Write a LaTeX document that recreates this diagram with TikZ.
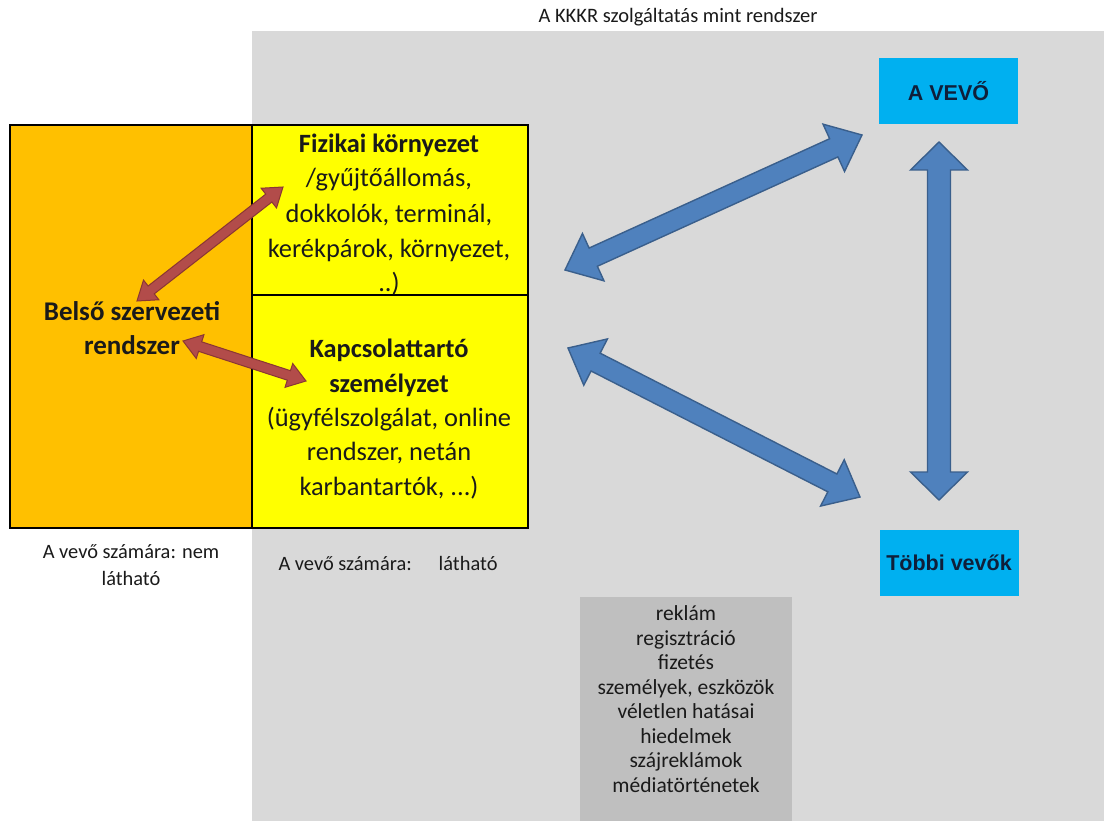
\documentclass[tikz,border=0pt]{standalone}
\usepackage{fontspec}
\setmainfont{Carlito}
\newfontfamily\arialfont{Liberation Sans}
\usetikzlibrary{calc}
\definecolor{bggrey}{HTML}{D9D9D9}
\definecolor{listgrey}{HTML}{BFBFBF}
\definecolor{orng}{HTML}{FFC000}
\definecolor{yell}{HTML}{FFFF00}
\definecolor{cyanbox}{HTML}{00B0F0}
\definecolor{bluefill}{HTML}{4F81BD}
\definecolor{blueline}{HTML}{3A5F8C}
\definecolor{redfill}{HTML}{B24C4A}
\definecolor{redline}{HTML}{8A3634}
\definecolor{txt}{HTML}{1A1A1A}
\definecolor{navy}{HTML}{0F1F3A}
% #1,#2 end coordinates, #3 shaft width, #4 head width, #5 head length, #6 style
\newcommand\dblblockarrow[6]{%
  \coordinate (ha) at ($(#1)!#5!(#2)$);
  \coordinate (hb) at ($(#2)!#5!(#1)$);
  \draw[#6] (#1) -- ($(ha)!#4/2!90:(#2)$) -- ($(ha)!#3/2!90:(#2)$)
    -- ($(hb)!#3/2!-90:(#1)$) -- ($(hb)!#4/2!-90:(#1)$) -- (#2)
    -- ($(hb)!#4/2!90:(#1)$) -- ($(hb)!#3/2!90:(#1)$)
    -- ($(ha)!#3/2!-90:(#2)$) -- ($(ha)!#4/2!-90:(#2)$) -- cycle;
}
\tikzset{
  bluearrow/.style={fill=bluefill, draw=blueline, line width=1.4pt, line join=miter},
  redarrow/.style={fill=redfill, draw=redline, line width=1pt, line join=miter},
  smalltxt/.style={text=txt, align=center, font=\fontsize{20.4}{27}\selectfont},
  custbox/.style={fill=cyanbox, text=navy, font=\arialfont\bfseries\fontsize{21.5}{25}\selectfont, minimum width=139pt, minimum height=66pt, inner sep=0pt},
}
\begin{document}
\begin{tikzpicture}[x=1pt,y=-1pt]
\useasboundingbox (0,0) rectangle (1104,821);
\fill[white] (0,0) rectangle (1104,821);
% grey background system area
\fill[bggrey] (252,31) rectangle (1104,821);
\node[text=txt, font=\fontsize{20.5}{24}\selectfont, anchor=base] (title) at (678,23) {A KKKR szolgáltatás mint rendszer};
% main box
\fill[orng] (10,125) rectangle (252,528);
\fill[yell] (252,125) rectangle (528,528);
\draw[line width=1.2pt, black] (252,125) -- (252,528);
\draw[line width=1.2pt, black] (252,295) -- (528,295);
\draw[line width=2.6pt, black] (10,125) rectangle (528,528);
% texts in boxes (anchor base = baseline of last line)
\node[text=txt, align=center, font=\fontsize{26.4}{35}\selectfont, anchor=base] (fiz) at (389,292) {\textbf{Fizikai környezet}\\/gyűjtőállomás,\\dokkolók, terminál,\\kerékpárok, környezet,\\..)};
\node[text=txt, align=center, font=\fontsize{26.4}{34.3}\selectfont, anchor=base] (kap) at (389,495) {\textbf{Kapcsolattartó}\\\textbf{személyzet}\\(ügyfélszolgálat, online\\rendszer, netán\\karbantartók, ...)};
\node[text=txt, align=center, font=\fontsize{27}{33}\selectfont\bfseries, anchor=base] (bel) at (132,354) {Belső szervezeti\\rendszer};
% labels below
\node[smalltxt, anchor=base] (nem) at (131,585) {A vevő számára: nem\\látható};
\node[text=txt, font=\fontsize{20.4}{24}\selectfont, anchor=base] (lat) at (388,570) {A vevő számára:\hspace{27pt}látható};
% customer boxes
\node[custbox] (vevo) at (948.5,91) {A VEVŐ};
\node[custbox] (tobbi) at (949,562.5) {Többi vevők};
% list box
\fill[listgrey] (580,597) rectangle (792,821);
\node[text=txt, align=center, font=\fontsize{21.5}{24.5}\selectfont, anchor=base] (lista) at (686,792) {reklám\\regisztráció\\fizetés\\személyek, eszközök\\véletlen hatásai\\hiedelmek\\szájreklámok\\médiatörténetek};
% arrow end points
\coordinate (ra1) at (137,301);
\coordinate (ra2) at (283,187);
\coordinate (rb1) at (183,341);
\coordinate (rb2) at (306,381);
\coordinate (ba1) at (565,270);
\coordinate (ba2) at (862,135);
\coordinate (bb1) at (568,348);
\coordinate (bb2) at (860,497);
\coordinate (bc1) at (939,142);
\coordinate (bc2) at (939,500);
\dblblockarrow{ra1}{ra2}{10pt}{25pt}{18pt}{redarrow}
\dblblockarrow{rb1}{rb2}{10pt}{25pt}{18pt}{redarrow}
\dblblockarrow{ba1}{ba2}{20pt}{52pt}{31pt}{bluearrow}
\dblblockarrow{bb1}{bb2}{20pt}{52pt}{31pt}{bluearrow}
\dblblockarrow{bc1}{bc2}{23pt}{57pt}{28pt}{bluearrow}
\end{tikzpicture}
\end{document}
